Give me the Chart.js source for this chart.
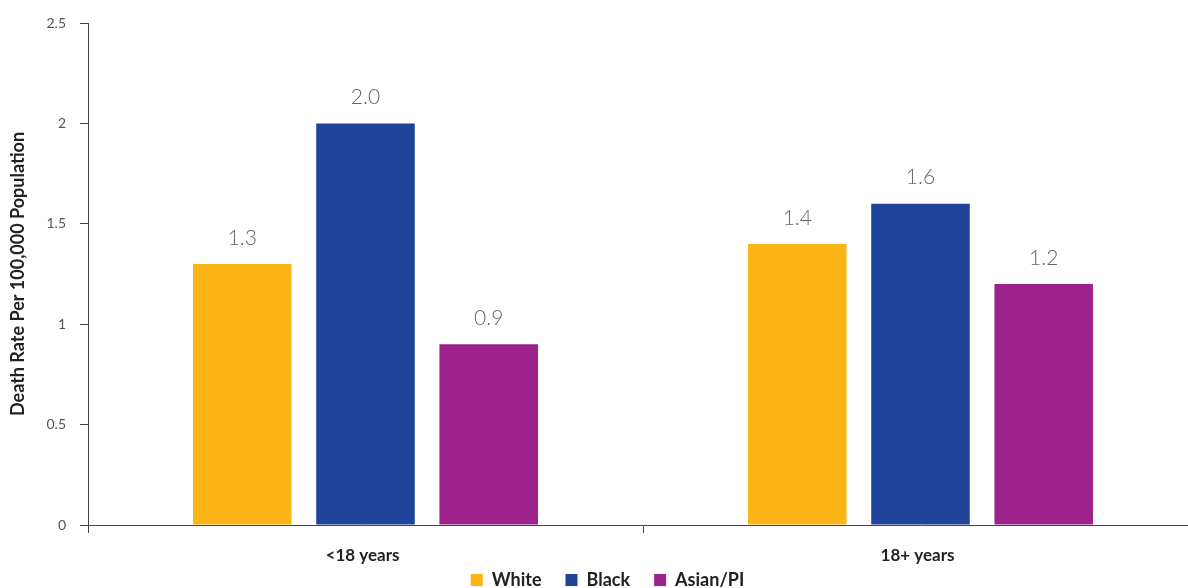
<!DOCTYPE html>
<html>
<head>
<meta charset="utf-8">
<script src="https://cdn.jsdelivr.net/npm/chart.js@4/dist/chart.umd.min.js"></script>
<style>
  html, body { margin: 0; padding: 0; background: #fff; overflow: hidden; }
  #wrap { width: 1188px; height: 588px; position: relative; overflow: hidden; }
  /* plot runs slightly past the window's right edge, like the source image */
  #inner { position: absolute; left: 0; top: 0; width: 1198px; height: 588px; }
</style>
</head>
<body>
<div id="wrap"><div id="inner"><canvas id="deathChart"></canvas></div></div>
<script>
// data
const ageGroups = ["<18 years", "18+ years"];
const whiteRates = [1.3, 1.4];
const blackRates = [2.0, 1.6];
const asianRates = [0.9, 1.2];
const yTicks = [0, 0.5, 1, 1.5, 2, 2.5];

// value labels above each bar
const barLabels = {
  id: "barLabels",
  afterDatasetsDraw(chart) {
    const ctx = chart.ctx;
    ctx.save();
    ctx.font = "300 21px Lato";
    ctx.fillStyle = "#666";
    ctx.textAlign = "center";
    ctx.textBaseline = "middle";
    chart.data.datasets.forEach((ds, i) => {
      chart.getDatasetMeta(i).data.forEach((bar, j) => {
        ctx.fillText(ds.data[j].toFixed(1), bar.x, bar.y - 26);
      });
    });
    ctx.restore();
  }
};

// legend needs wide gaps between items but little height, so shrink its box and
// pull its top up (the legend clips to its own box, so the bottom stays put)
const legendNudge = {
  id: "legendNudge",
  beforeLayout(chart) {
    const lg = chart.legend;
    if (lg && !lg._nudged) {
      const fit = lg.fit;
      lg.fit = function () { fit.call(this); this.height = 20; };
      lg._nudged = true;
    }
  },
  afterLayout(chart) {
    const lg = chart.legend;
    lg.top -= 21;
    lg.left += 8.5; lg.right += 8.5;
  }
};

new Chart(document.getElementById("deathChart").getContext("2d"), {
  type: "bar",
  data: {
    labels: ageGroups,
    datasets: [
      { label: "White", data: whiteRates, backgroundColor: "#FBB517" },
      { label: "Black", data: blackRates, backgroundColor: "#1F4499" },
      { label: "Asian/PI", data: asianRates, backgroundColor: "#9D228B" }
    ]
  },
  options: {
    responsive: true,
    maintainAspectRatio: false,
    animation: false,
    layout: { padding: { top: 23, right: 0, left: 0, bottom: 0 } },
    datasets: { bar: { barPercentage: 0.8, categoryPercentage: 0.666 } },
    plugins: {
      tooltip: { enabled: false },
      legend: {
        position: "bottom",
        labels: {
          boxWidth: 12,
          boxHeight: 12,
          padding: 24,
          color: "#222",
          font: { family: "Lato", size: 18, weight: "bold" }
        }
      }
    },
    scales: {
      x: {
        grid: { drawOnChartArea: false, tickLength: 8, color: "#444" },
        border: { color: "#444" },
        ticks: {
          color: "#222",
          font: { family: "Lato", size: 17, weight: "bold" },
          padding: 12,
          labelOffset: -3
        },
        afterFit(scale) { scale.height = 43; }
      },
      y: {
        min: 0,
        max: 2.5,
        afterBuildTicks(scale) { scale.ticks = yTicks.map(v => ({ value: v })); },
        grid: { drawOnChartArea: false, tickLength: 8, color: "#444" },
        border: { color: "#444" },
        ticks: {
          color: "#555",
          font: { family: "Lato", size: 14 },
          padding: 14,
          callback: v => String(v)
        },
        title: {
          display: true,
          text: "Death Rate Per 100,000 Population",
          color: "#222",
          padding: { top: 7, bottom: 4 },
          font: { family: "Lato", size: 18, weight: "bold" }
        },
        afterFit(scale) { scale.width = 88; }
      }
    }
  },
  plugins: [barLabels, legendNudge]
});
</script>
</body>
</html>
